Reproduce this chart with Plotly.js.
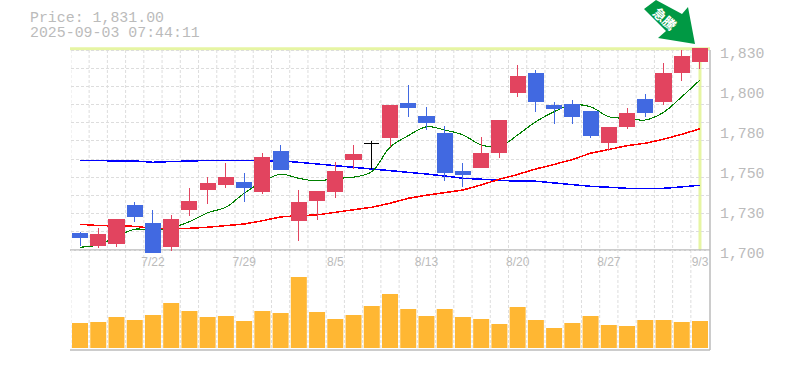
<!DOCTYPE html>
<html>
<head>
<meta charset="utf-8">
<script src="https://cdn.plot.ly/plotly-3.0.1.min.js"></script>
<style>
html,body{margin:0;padding:0;background:#fff;overflow:hidden}
.boxes path{stroke-linejoin:miter !important;shape-rendering:crispEdges !important}
.scatterlayer path.js-line{shape-rendering:crispEdges !important}
</style>
</head>
<body>
<div id="chart" style="width:785px;height:370px"></div>
<script>
var dates = ['7/15','7/16','7/17','7/18','7/22','7/23','7/24','7/25','7/28','7/29','7/30','7/31','8/1','8/4','8/5','8/6','8/7','8/8','8/12','8/13','8/14','8/15','8/18','8/19','8/20','8/21','8/22','8/25','8/26','8/27','8/28','8/29','9/1','9/2','9/3'];
var open_ = [1711.05,1703.25,1704.55,1729.25,1717.55,1702.6,1726.65,1739.65,1742.9,1744.2,1738.35,1764.35,1719.5,1732.5,1738.35,1759.15,1769.55,1773.45,1795.55,1787.1,1776.05,1751.35,1753.95,1763.7,1802.7,1815.05,1794.25,1794.9,1790.35,1770.2,1780.6,1798.15,1796.85,1815.7,1822.85];
var high_ = [1711.7,1714.3,1720.15,1731.2,1726,1722.75,1740.3,1747.45,1756.55,1750.05,1763.05,1768.25,1739,1738.35,1757.2,1768.25,1770.85,1794.25,1807.25,1792.95,1780.6,1756.55,1773.45,1784.5,1820.25,1817,1796.2,1797.5,1790.35,1779.95,1792.3,1801.4,1821.55,1830,1831.3];
var low_ = [1702.6,1701.3,1702,1718.2,1698.7,1699.35,1722.1,1729.9,1740.3,1731.2,1736.4,1752.65,1705.85,1719.5,1733.8,1752.65,1752.65,1766.95,1786.45,1778,1744.85,1740.95,1753.95,1759.8,1799.45,1789.7,1781.9,1781.9,1772.8,1764.35,1778.65,1786.45,1794.25,1809.85,1817.65];
var close_ = [1708.45,1710.4,1720.15,1722.1,1698.7,1720.15,1731.85,1743.55,1747.45,1740.95,1760.45,1752.65,1731.2,1738.35,1751.35,1762.4,1769.55,1794.25,1792.95,1783.2,1750.7,1749.4,1763.05,1784.5,1813.1,1796.85,1792.3,1787.1,1774.75,1779.95,1789.05,1789.7,1815.05,1826.1,1831.3];
var maShort = [1701.8,1703.3,1708.6,1713.5,1713,1714.5,1718.4,1724.2,1727.8,1736.9,1744.4,1749.2,1746.6,1744.9,1746.6,1747.3,1750.9,1766.8,1774.3,1780.1,1778,1774.8,1768.3,1767.1,1774.8,1783.4,1789.9,1794.3,1793.1,1786.6,1785.6,1784.5,1789.5,1799.6,1810.5];
var maMid = [1716.7,1715.9,1715.6,1715.4,1714.1,1714.1,1714.1,1714.8,1715.8,1716.9,1719,1721.5,1722.3,1722.8,1724.5,1726,1727.8,1730.4,1733.6,1735.6,1737.2,1739,1742.3,1746,1749.1,1752.7,1755.6,1758.8,1762.9,1765.5,1767.8,1769.4,1772,1775.2,1778.8];
var maLong = [1758.3,1757.9,1757.9,1757.9,1757,1757.5,1757.9,1758.2,1758.2,1758.2,1758.2,1757.9,1757,1755.9,1754.8,1754.1,1752.8,1751.5,1750.5,1749.4,1748.1,1746.6,1746,1745.3,1744.7,1744.7,1743.6,1742.7,1741.4,1740.8,1740.1,1740.1,1740.1,1741,1742.1];
var volume = [25,26,31,28,33,45,37,31,32,27,37,35,71,36,29,33,42,54,39,32,39,31,29,24,41,28,20,25,32,23,22,28,28,26,27];
var xTickLabels = ['7/22','7/29','8/5','8/13','8/20','8/27','9/3'];
var yTickValues = [1830,1804,1778,1752,1726,1700];
var yTickLabels = ['1,830','1,800','1,780','1,750','1,730','1,700'];
var yGridValues = [1700,1711.82,1723.64,1735.45,1747.27,1759.09,1770.91,1782.73,1794.55,1806.36,1818.18,1830];
var priceLine = 'Price: 1,831.00';
var timeLine = '2025-09-03 07:44:11';
var signalLabel = '急騰';

var W = 785, H = 370;
var fx = function (p) { return p / W; };
var fy = function (p) { return 1 - p / H; };
var GREY = '#bbbbbb', GRID = '#dddddd', LIME = '#e6f5a3', UP = '#e2445f', DOWN = '#4169e1';
var MONO = '"Liberation Mono", monospace';

function pick(arr, doji) {
  return arr.map(function (v, i) { return (open_[i] === close_[i]) === doji ? v : null; });
}
function candle(doji, upC, downC) {
  return {
    type: 'candlestick', x: dates, xaxis: 'x', yaxis: 'y2',
    open: pick(open_, doji), high: pick(high_, doji), low: pick(low_, doji), close: pick(close_, doji),
    increasing: { line: { color: upC, width: 1 }, fillcolor: upC },
    decreasing: { line: { color: downC, width: 1 }, fillcolor: downC },
    whiskerwidth: 0, hoverinfo: 'skip', showlegend: false
  };
}
function ma(values, color, width, shape) {
  return { type: 'scatter', mode: 'lines', x: dates, y: values, xaxis: 'x', yaxis: 'y',
    line: { color: color, width: width, shape: shape }, hoverinfo: 'skip', showlegend: false };
}
var traces = [
  ma(maLong, '#0000ff', 1.5, 'linear'),
  ma(maMid, '#ff0000', 1.5, 'linear'),
  ma(maShort, '#008000', 1.1, 'spline'),
  candle(false, UP, DOWN),
  candle(true, '#000000', '#000000'),
  { type: 'bar', x: dates, y: volume, xaxis: 'x', yaxis: 'y3', marker: { color: '#ffb733', line: { width: 0 } }, hoverinfo: 'skip', showlegend: false }
];

var shapes = [];
for (var k = 0; k < 35; k++) {
  shapes.push({ type: 'line', layer: 'below', xref: 'x', yref: 'paper', x0: k - 0.5, x1: k - 0.5, y0: fy(50), y1: fy(350),
    line: { color: GRID, width: 1, dash: '3px,2px' } });
}
shapes.push({ type: 'line', layer: 'below', xref: 'paper', yref: 'paper', x0: fx(70), x1: fx(710), y0: fy(48.7), y1: fy(48.7), line: { color: LIME, width: 3 } });
shapes.push({ type: 'line', layer: 'below', xref: 'x', yref: 'paper', x0: 34, x1: 34, y0: fy(48), y1: fy(250), line: { color: LIME, width: 3 } });
shapes.push({ type: 'line', layer: 'above', xref: 'paper', yref: 'paper', x0: fx(70), x1: fx(710), y0: fy(350), y1: fy(350), line: { color: GREY, width: 1.5 } });
shapes.push({ type: 'line', layer: 'below', xref: 'paper', yref: 'paper', x0: fx(70), x1: fx(710), y0: fy(250), y1: fy(250), line: { color: GREY, width: 1.5 } });
shapes.push({ type: 'line', layer: 'above', xref: 'paper', yref: 'paper', x0: fx(710), x1: fx(710), y0: fy(50), y1: fy(350), line: { color: GREY, width: 1.5 } });
var arrowPx = [[644,9],[656,0],[682,14],[688,7],[695,44],[658,38],[666,31]];
shapes.push({ type: 'path', layer: 'above', xref: 'paper', yref: 'paper', fillcolor: '#009944', line: { width: 0 },
  path: arrowPx.map(function (p, i) { return (i ? 'L' : 'M') + fx(p[0]) + ',' + fy(p[1]); }).join(' ') + ' Z' });

var annotations = [
  { xref: 'paper', yref: 'paper', x: fx(29), y: fy(18), xanchor: 'left', yanchor: 'middle', showarrow: false, borderpad: 0, height: 14, text: priceLine, font: { family: MONO, size: 14.9, color: GREY } },
  { xref: 'paper', yref: 'paper', x: fx(29), y: fy(33), xanchor: 'left', yanchor: 'middle', showarrow: false, borderpad: 0, height: 14, text: timeLine, font: { family: MONO, size: 14.9, color: GREY } },
  { xref: 'paper', yref: 'paper', x: fx(665), y: fy(18.5), xanchor: 'center', yanchor: 'middle', showarrow: false, textangle: 42, text: '<b>' + signalLabel + '</b>', font: { family: '"Noto Sans CJK JP", sans-serif', size: 13, color: '#ffffff' } }
];
yTickValues.forEach(function (v, i) {
  annotations.push({ xref: 'paper', yref: 'y', x: fx(718), y: v, yshift: -4, xanchor: 'left', yanchor: 'middle', showarrow: false, text: yTickLabels[i], font: { family: MONO, size: 14.8, color: GREY } });
});

var mainRange = [1698.05, 1833.9];
var mainDomain = [fy(253), fy(44)];
var layout = {
  width: W, height: H, autosize: false,
  margin: { l: 0, r: 0, t: 0, b: 0, pad: 0 },
  paper_bgcolor: '#ffffff', plot_bgcolor: 'rgba(0,0,0,0)',
  showlegend: false, boxmode: 'overlay', boxgap: 0.17, boxgroupgap: 0, bargap: 0.123,
  xaxis: { type: 'category', categoryorder: 'array', categoryarray: dates, domain: [fx(70.9), fx(709.1)], range: [-0.5, 34.5],
    rangeslider: { visible: false }, anchor: 'y', side: 'bottom', showgrid: false, zeroline: false, showline: false, ticks: '',
    tickmode: 'array', tickvals: xTickLabels, ticktext: xTickLabels, tickangle: 0,
    tickfont: { family: '"Liberation Sans", sans-serif', size: 12, color: GREY } },
  yaxis: { domain: mainDomain, range: mainRange, anchor: 'x', tickmode: 'array', tickvals: yGridValues, showticklabels: false, ticks: '',
    showgrid: true, gridcolor: GRID, griddash: '3px,2px', gridwidth: 1, zeroline: false, showline: false },
  yaxis2: { domain: mainDomain, range: mainRange, overlaying: 'y', anchor: 'x', showgrid: false, showticklabels: false, ticks: '', zeroline: false, showline: false },
  yaxis3: { domain: [fy(350), fy(253)], range: [-2, 95], anchor: 'x', showgrid: false, showticklabels: false, ticks: '', zeroline: false, showline: false },
  shapes: shapes, annotations: annotations
};
Plotly.newPlot('chart', traces, layout, { displayModeBar: false, staticPlot: true });
</script>
</body>
</html>
